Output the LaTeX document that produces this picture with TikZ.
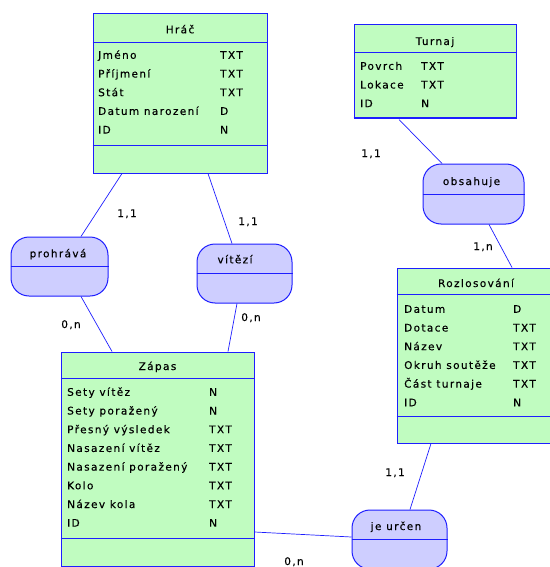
\documentclass[tikz,border=0pt]{standalone}
\usepackage{fontspec}
\usepackage{array}
\newfontfamily\erfont[LetterSpace=13,FakeBold=0.3]{DejaVu Sans}
\newcommand{\erf}{\erfont\fontsize{10.5}{18.7}\selectfont}
\definecolor{erline}{RGB}{30,30,255}
\definecolor{entfill}{RGB}{192,252,192}
\definecolor{relfill}{RGB}{206,206,255}

\begin{document}
\begin{tikzpicture}[x=1pt,y=-1pt,
  ent/.style={rectangle,draw=erline,fill=entfill,line width=1pt,inner sep=0pt},
  rel/.style={rectangle,rounded corners=18pt,draw=erline,fill=relfill,line width=1pt,inner sep=0pt,minimum height=59pt},
  sep/.style={draw=erline,line width=1pt},
  a/.style={draw=erline,line width=0.7pt},
  txt/.style={font=\erf,inner sep=0pt,anchor=base},
  attr/.style={font=\erf,inner sep=0pt,anchor=base west,align=left}]

\useasboundingbox (0,0) rectangle (549,567);

% entity: Hrac
\node[ent,minimum width=174pt,minimum height=159pt] (hrac) at (180,93.5) {};
\draw[sep] ([yshift=-29pt]hrac.north west) -- ([yshift=-29pt]hrac.north east);
\draw[sep] ([yshift=28pt]hrac.south west) -- ([yshift=28pt]hrac.south east);
\node[txt] (hracT) at (180,33.3) {Hráč};
\node[attr] (hracA) at (98,58.8) {\begin{tabular}[t]{@{}p{122pt}@{}l@{}}
Jméno & TXT\\ Příjmení & TXT\\ Stát & TXT\\ Datum narození & D\\ ID & N
\end{tabular}};

% entity: Turnaj
\node[ent,minimum width=162pt,minimum height=94pt] (turnaj) at (435,72) {};
\draw[sep] ([yshift=-28pt]turnaj.north west) -- ([yshift=-28pt]turnaj.north east);
\draw[sep] ([yshift=2pt]turnaj.south west) -- ([yshift=2pt]turnaj.south east);
\node[txt] (turnajT) at (435,45) {Turnaj};
\node[attr] (turnajA) at (360,69.8) {\begin{tabular}[t]{@{}p{61pt}@{}l@{}}
Povrch & TXT\\ Lokace & TXT\\ ID & N
\end{tabular}};

% entity: Zapas
\node[ent,minimum width=193pt,minimum height=214pt] (zapas) at (157.5,459) {};
\draw[sep] ([yshift=-27pt]zapas.north west) -- ([yshift=-27pt]zapas.north east);
\draw[sep] ([yshift=28pt]zapas.south west) -- ([yshift=28pt]zapas.south east);
\node[txt] (zapasT) at (157.5,370) {Zápas};
\node[attr] (zapasA) at (67,395.8) {\begin{tabular}[t]{@{}p{142pt}@{}l@{}}
Sety vítěz & N\\ Sety poražený & N\\ Přesný výsledek & TXT\\ Nasazení vítěz & TXT\\
Nasazení poražený & TXT\\ Kolo & TXT\\ Název kola & TXT\\ ID & N
\end{tabular}};

% entity: Rozlosovani (runs past the right edge)
\node[ent,minimum width=155pt,minimum height=175pt] (rozlos) at (474.5,355.5) {};
\draw[sep] ([yshift=-27pt]rozlos.north west) -- ([yshift=-27pt]rozlos.north east);
\draw[sep] ([yshift=27pt]rozlos.south west) -- ([yshift=27pt]rozlos.south east);
\node[txt] (rozlosT) at (476,287) {Rozlosování};
\node[attr] (rozlosA) at (404,312.8) {\begin{tabular}[t]{@{}p{109pt}@{}l@{}}
Datum & D\\ Dotace & TXT\\ Název & TXT\\ Okruh soutěže & TXT\\ Část turnaje & TXT\\ ID & N
\end{tabular}};

% relationships
\node[rel,minimum width=97pt] (prohrava) at (59.5,266.5) {};
\draw[sep] (prohrava.west) -- (prohrava.east);
\node[txt] (prohravaT) at (58,257.3) {prohrává};
\node[rel,minimum width=95pt] (vitezi) at (244.5,273.5) {};
\draw[sep] (vitezi.west) -- (vitezi.east);
\node[txt] (viteziT) at (235,263.3) {vítězí};
\node[rel,minimum width=101pt,minimum height=60pt] (obsahuje) at (473.5,194) {};
\draw[sep] (obsahuje.west) -- (obsahuje.east);
\node[txt] (obsahujeT) at (471.5,185) {obsahuje};
\node[rel,minimum width=95pt] (jeurcen) at (399.5,539.5) {};
\draw[sep] (jeurcen.west) -- (jeurcen.east);
\node[txt] (jeurcenT) at (396,530) {je určen};

% connectors
\draw[a] ([xshift=-58pt]hrac.south) -- ([xshift=21.5pt]prohrava.north);
\draw[a] ([xshift=28pt]hrac.south) -- ([xshift=-12.5pt]vitezi.north);
\draw[a] ([xshift=21.5pt]prohrava.south) -- ([xshift=-45.5pt]zapas.north);
\draw[a] ([xshift=-7.5pt]vitezi.south) -- ([xshift=70.5pt]zapas.north);
\draw[a] ([xshift=-36pt]turnaj.south) -- ([xshift=-31.5pt]obsahuje.north);
\draw[a] ([xshift=15.5pt]obsahuje.south) -- ([xshift=37.5pt]rozlos.north);
\draw[a] ([xshift=-43.5pt]rozlos.south) -- ([xshift=10.5pt]jeurcen.north);
\draw[a] ([yshift=-73pt]zapas.east) -- ([yshift=2.5pt]jeurcen.west);

% cardinalities
\node[txt] (c1) at (127,217) {1,1};
\node[txt] (c2) at (248,225) {1,1};
\node[txt] (c3) at (71,328) {0,n};
\node[txt] (c4) at (251,321) {0,n};
\node[txt] (c5) at (371,157) {1,1};
\node[txt] (c6) at (483,250) {1,n};
\node[txt] (c7) at (395,476) {1,1};
\node[txt] (c8) at (294,565) {0,n};
\end{tikzpicture}
\end{document}
